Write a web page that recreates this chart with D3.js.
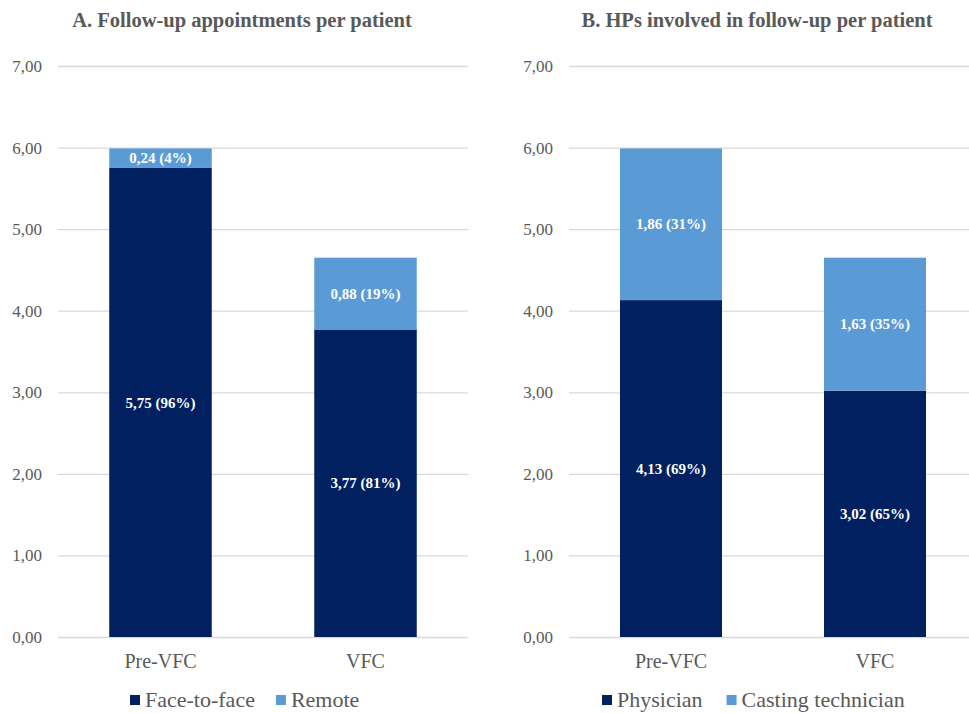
<!DOCTYPE html>
<html>
<head>
<meta charset="utf-8">
<script src="https://cdn.jsdelivr.net/npm/d3@7"></script>
<style>
  body { margin: 0; background: #fff; }
  svg { display: block; }
</style>
</head>
<body>
<div id="chart"></div>
<script>
var svgWidth = 969,
    svgHeight = 713;

// Data
var categories = ["Pre-VFC", "VFC"];
var yTicks = [0, 1, 2, 3, 4, 5, 6, 7];

var titleA = "A. Follow-up appointments per patient";
var seriesA = ["Face-to-face", "Remote"];
var faceToFace = [5.75, 3.77];
var remote = [0.24, 0.88];
var pctFace = [96, 81];
var pctRemote = [4, 19];

var titleB = "B. HPs involved in follow-up per patient";
var seriesB = ["Physician", "Casting technician"];
var physician = [4.13, 3.02];
var castingTech = [1.86, 1.63];
var pctPhys = [69, 65];
var pctCast = [31, 35];

var colors = ["#002060", "#5b9bd5"];
var fmt = v => d3.format(".2f")(v).replace(".", ",");
var serif = "'Liberation Serif', 'Times New Roman', serif";

var svg = d3.select("#chart")
    .append("svg")
        .attr("width", svgWidth)
        .attr("height", svgHeight)
        .style("font-family", serif);

function drawPanel(opts){
    var left = opts.left, right = opts.right, top = 66, bottom = 637;

    var x = d3.scaleBand()
        .domain(categories)
        .range([left, right])
        .paddingInner(0.5)
        .paddingOuter(0.25);

    var y = d3.scaleLinear()
        .domain([0, 7])
        .range([bottom, top]);

    var g = svg.append("g");

    // title
    g.append("text")
        .attr("x", opts.titleX)
        .attr("y", 27)
        .attr("text-anchor", "middle")
        .attr("font-size", "20.5px")
        .attr("font-weight", "bold")
        .attr("fill", "#595959")
        .text(opts.title);

    // gridlines + y labels
    var yAxis = d3.axisLeft(y)
        .tickValues(yTicks)
        .tickSize(-(right - left))
        .tickPadding(16)
        .tickFormat(fmt);

    var yg = g.append("g")
        .attr("transform", `translate(${left},0)`)
        .call(yAxis);
    yg.select(".domain").remove();
    yg.selectAll(".tick line").attr("stroke", "#d9d9d9").attr("stroke-width", 1.3);
    yg.selectAll(".tick text")
        .attr("fill", "#595959")
        .attr("font-size", "17px")
        .attr("font-family", serif);

    // stacked bars
    var rows = categories.map((c, i) => ({cat: c, a: opts.a[i], b: opts.b[i], pa: opts.pa[i], pb: opts.pb[i]}));
    var stack = d3.stack().keys(["a", "b"])(rows);

    stack.forEach((layer, li) => {
        g.append("g").selectAll("rect")
            .data(layer)
            .enter().append("rect")
                .attr("x", d => x(d.data.cat))
                .attr("width", x.bandwidth())
                .attr("y", d => y(d[1]))
                .attr("height", d => y(d[0]) - y(d[1]))
                .attr("fill", colors[li]);

        g.append("g").selectAll("text")
            .data(layer)
            .enter().append("text")
                .attr("x", d => x(d.data.cat) + x.bandwidth()/2)
                .attr("y", d => y((d[0] + d[1]) / 2))
                .attr("dy", "0.35em")
                .attr("text-anchor", "middle")
                .attr("font-size", "15px")
                .attr("font-weight", "bold")
                .attr("fill", "#fff")
                .text(d => li === 0
                    ? `${fmt(d.data.a)} (${d.data.pa}%)`
                    : `${fmt(d.data.b)} (${d.data.pb}%)`);
    });

    // category labels
    g.append("g").selectAll("text")
        .data(categories)
        .enter().append("text")
            .attr("x", d => x(d) + x.bandwidth()/2)
            .attr("y", 668)
            .attr("text-anchor", "middle")
            .attr("font-size", "20px")
            .attr("fill", "#595959")
            .text(d => d);

    // legend
    var lg = g.append("g").attr("transform", "translate(0,700)");
    var lx = opts.legendX;
    opts.series.forEach((s, i) => {
        lg.append("rect")
            .attr("x", lx)
            .attr("y", -5)
            .attr("width", 10)
            .attr("height", 10)
            .attr("fill", colors[i]);
        var t = lg.append("text")
            .attr("x", lx + 15)
            .attr("y", 0)
            .attr("dy", "0.33em")
            .attr("font-size", "22px")
            .attr("fill", "#595959")
            .text(s);
        lx += 15 + t.node().getComputedTextLength() + opts.legendGap;
    });
}

drawPanel({
    left: 58, right: 468, titleX: 242, title: titleA,
    a: faceToFace, b: remote, pa: pctFace, pb: pctRemote,
    series: seriesA, legendX: 130, legendGap: 21
});

drawPanel({
    left: 569, right: 977, titleX: 757, title: titleB,
    a: physician, b: castingTech, pa: pctPhys, pb: pctCast,
    series: seriesB, legendX: 602, legendGap: 24
});
</script>
</body>
</html>
